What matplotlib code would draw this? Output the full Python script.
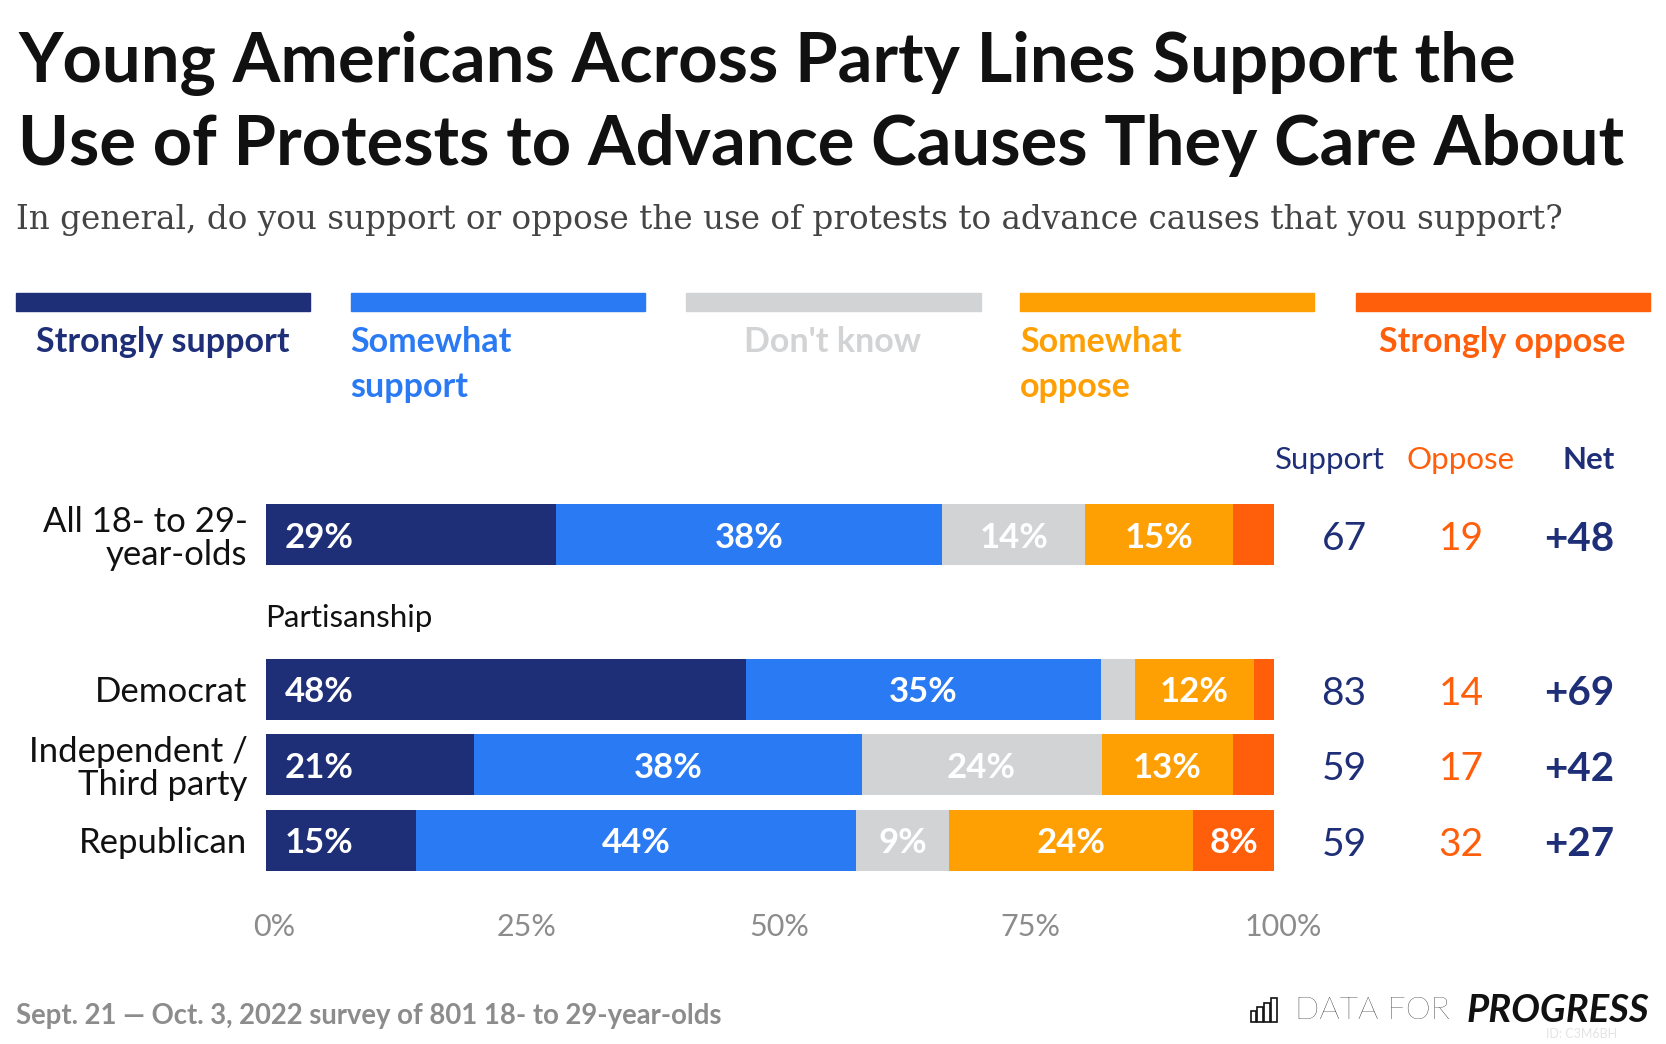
import matplotlib
matplotlib.use("Agg")
import matplotlib.pyplot as plt
from matplotlib.patches import Rectangle
from matplotlib.transforms import blended_transform_factory, ScaledTranslation

# data
rows = ["All 18- to 29-\nyear-olds", "Democrat", "Independent /\nThird party", "Republican"]
strongly_support = [28.8, 47.6, 20.7, 14.9]
somewhat_support = [38.3, 35.2, 38.4, 43.7]
dont_know = [14.2, 3.4, 23.8, 9.2]
somewhat_oppose = [14.6, 11.8, 13.0, 24.2]
strongly_oppose = [4.1, 2.0, 4.1, 8.0]
support = [67, 83, 59, 59]
oppose = [19, 14, 17, 32]

categories = ["Strongly support", "Somewhat\nsupport", "Don't know", "Somewhat\noppose", "Strongly oppose"]
colors = ["#1e2f78", "#2a7af3", "#d2d3d5", "#fe9f03", "#ff5e0b"]
ticks = [0, 25, 50, 75, 100]
tick_labels = ["0%", "25%", "50%", "75%", "100%"]

NAVY = "#1e2f78"
ORANGE = "#ff5e0b"
SANS = ["Lato", "DejaVu Sans"]

W, H = 1568, 983  # layout coordinates (reference preview pixels)


def fx(x):
    return x / W


def fy(y):
    return 1 - y / H


fig = plt.figure(figsize=(16.66, 10.44), dpi=100)

# title / subtitle
fig.text(fx(17), fy(77), "Young Americans Across Party Lines Support the",
         fontsize=49.5, fontweight="bold", family=SANS, color="#111111", va="baseline")
fig.text(fx(17), fy(155), "Use of Protests to Advance Causes They Care About",
         fontsize=49.5, fontweight="bold", family=SANS, color="#111111", va="baseline")
fig.text(fx(15), fy(216), "In general, do you support or oppose the use of protests to advance causes that you support?",
         fontsize=23.5, family=["DejaVu Serif"], color="#444444", va="baseline")

# legend blocks
leg_x = [15, 330, 646, 960, 1276]
for i, (lab, col) in enumerate(zip(categories, colors)):
    fig.patches.append(Rectangle((fx(leg_x[i]), fy(293)), fx(277), 17 / H,
                                 transform=fig.transFigure, color=col))
    if "\n" in lab:
        fig.text(fx(leg_x[i]), fy(307), lab, fontsize=24.5, fontweight="bold",
                 family=SANS, color=col, va="top", ha="left", linespacing=1.5)
    else:
        fig.text(fx(leg_x[i] + 138), fy(307), lab, fontsize=24.5, fontweight="bold",
                 family=SANS, color=col, va="top", ha="center")

# bars
ax = fig.add_axes([fx(250), fy(840), fx(949), 400 / H])
ypos = [0, 2.05, 3.05, 4.05]
series = [strongly_support, somewhat_support, dont_know, somewhat_oppose, strongly_oppose]
left = [0, 0, 0, 0]
for s, (vals, col) in enumerate(zip(series, colors)):
    ax.barh(ypos, vals, left=left, height=0.81, color=col, linewidth=0)
    for y, l, v in zip(ypos, left, vals):
        if v >= 5:
            if s == 0:
                ax.text(l + 1.9, y + 0.04, f"{round(v)}%", ha="left", va="center", color="white",
                        fontsize=25, fontweight="bold", family=SANS)
            else:
                ax.text(l + v / 2, y + 0.04, f"{round(v)}%", ha="center", va="center", color="white",
                        fontsize=25, fontweight="bold", family=SANS)
    left = [a + b for a, b in zip(left, vals)]

ax.set_yticks(ypos)
ax.set_yticklabels(rows, fontsize=25, family=SANS, color="#111111", linespacing=1.05)
ax.set_xticks(ticks)
ax.set_xticklabels(tick_labels, fontsize=22, family=SANS, color="#8c8c8c")
ax.set_xlim(0, 100)
ax.set_ylim(4.74, -0.894)
ax.tick_params(axis="y", length=0, pad=13)
ax.tick_params(axis="x", length=0, pad=15)
# tick labels sit a little right of their ticks in the original
shift = ScaledTranslation(0.09, 0, fig.dpi_scale_trans)
for lab in ax.get_xticklabels():
    lab.set_transform(lab.get_transform() + shift)
for sp in ax.spines.values():
    sp.set_visible(False)
ax.patch.set_alpha(0)

ax.text(0, 1.1, "Partisanship", fontsize=22.5, family=SANS, color="#111111", va="center", ha="left")

# side columns
tr = blended_transform_factory(fig.transFigure, ax.transData)
fig.text(fx(1252), fy(433), "Support", fontsize=22.5, family=SANS, color=NAVY, ha="center", va="center")
fig.text(fx(1375), fy(433), "Oppose", fontsize=22.5, family=SANS, color=ORANGE, ha="center", va="center")
fig.text(fx(1495), fy(433), "Net", fontsize=22.5, family=SANS, color=NAVY, ha="center", va="center",
         fontweight="bold")
for y, s_, o_ in zip(ypos, support, oppose):
    ax.text(fx(1265), y + 0.06, f"{s_}", transform=tr, fontsize=28, family=SANS, color=NAVY,
            ha="center", va="center")
    ax.text(fx(1375), y + 0.06, f"{o_}", transform=tr, fontsize=28, family=SANS, color=ORANGE,
            ha="center", va="center")
    ax.text(fx(1519), y + 0.06, f"+{s_ - o_}", transform=tr, fontsize=29, family=SANS, color=NAVY,
            ha="right", va="center", fontweight="bold")

# footer
fig.text(fx(15), fy(957), "Sept. 21 \u2014 Oct. 3, 2022 survey of 801 18- to 29-year-olds",
         fontsize=19.8, fontweight="bold", family=SANS, color="#8c8c8c", va="center")

# logo
for i, h in enumerate([10, 14, 18, 22]):
    fig.patches.append(Rectangle((fx(1177 + i * 6.5), fy(962)), fx(5), h / H, transform=fig.transFigure,
                                 fill=False, edgecolor="#111111", linewidth=1.2))
fig.text(fx(1219), fy(951), "DATA FOR", fontsize=23, family=SANS, fontweight="light",
         color="#111111", va="center")
fig.text(fx(1552), fy(951), "PROGRESS", fontsize=27.5, family=SANS, fontweight="bold", style="italic",
         color="#111111", va="center", ha="right")
fig.text(fx(1522), fy(974), "ID: C3M6BH", fontsize=9, family=SANS, color="#e4e4e4", va="center", ha="right")

fig.savefig("out.png", dpi=100, facecolor="white")
